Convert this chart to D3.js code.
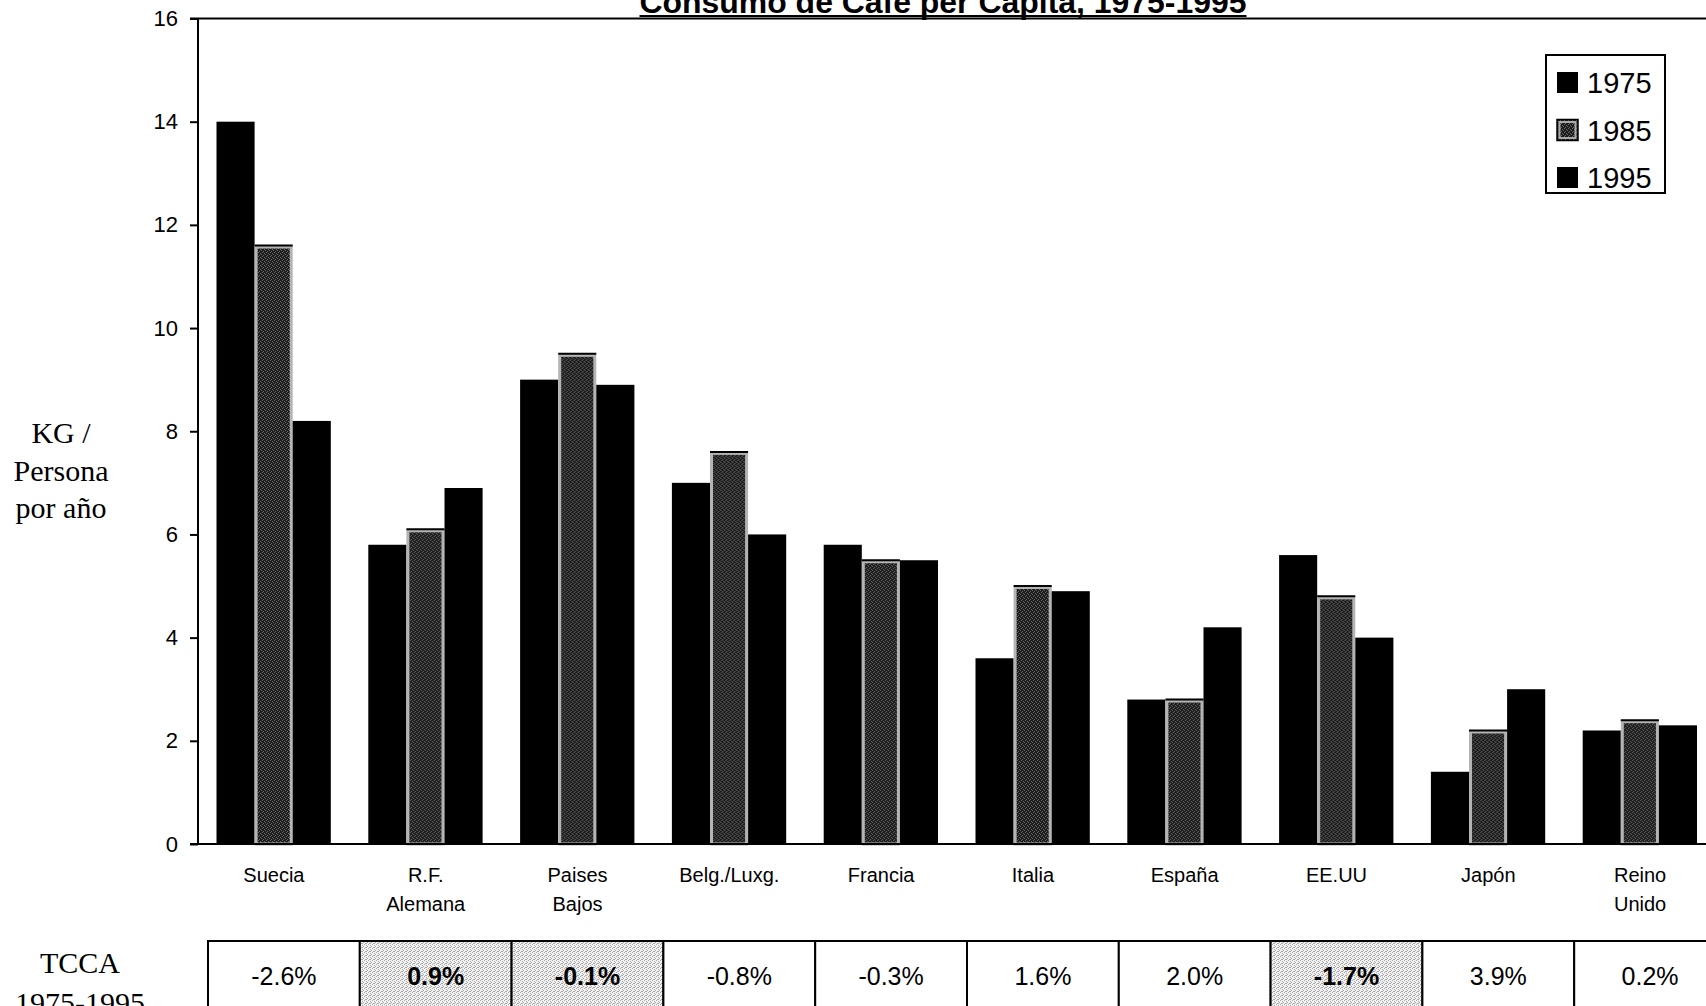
<!DOCTYPE html>
<html>
<head>
<meta charset="utf-8">
<script src="https://cdn.jsdelivr.net/npm/d3@7"></script>
<style>
  html, body { margin: 0; padding: 0; background: #fff; overflow: hidden; }
  svg { display: block; }
</style>
</head>
<body>
<svg id="chart" width="1706" height="1006"></svg>
<script>
// ---- data ----
const categories = ["Suecia", "R.F. Alemana", "Paises Bajos", "Belg./Luxg.", "Francia", "Italia", "España", "EE.UU", "Japón", "Reino Unido"];
const years = ["1975", "1985", "1995"];
const values1975 = [14.0, 5.8, 9.0, 7.0, 5.8, 3.6, 2.8, 5.6, 1.4, 2.2];
const values1985 = [11.6, 6.1, 9.5, 7.6, 5.5, 5.0, 2.8, 4.8, 2.2, 2.4];
const values1995 = [8.2, 6.9, 8.9, 6.0, 5.5, 4.9, 4.2, 4.0, 3.0, 2.3];
const tccaLabels = ["-2.6%", "0.9%", "-0.1%", "-0.8%", "-0.3%", "1.6%", "2.0%", "-1.7%", "3.9%", "0.2%"];
const tccaShaded = [false, true, true, false, false, false, false, true, false, false];
const yTicks = [0, 2, 4, 6, 8, 10, 12, 14, 16];
const titleText = "Consumo de Café per Capita, 1975-1995";
const yTitleLines = ["KG /", "Persona", "por año"];
const tccaTitleLines = ["TCCA", "1975-1995"];

const seriesValues = { "1975": values1975, "1985": values1985, "1995": values1995 };

// ---- layout ----
const svg = d3.select("#chart");
const axisX = 198, y0px = 844, y16px = 18.5, bandW = 151.8;
const sans = "'Liberation Sans', Arial, sans-serif";
const serif = "'Liberation Serif', 'Times New Roman', serif";

const y = d3.scaleLinear().domain([0, 16]).range([y0px, y16px]);
const x0 = d3.scaleBand().domain(categories).range([axisX, axisX + bandW * categories.length]).padding(0);
const x1 = d3.scaleBand().domain(years).range([18.5, 18.5 + 114.3]).padding(0);

// patterns
const defs = svg.append("defs");
const dark = defs.append("pattern").attr("id", "darkStip").attr("patternUnits", "userSpaceOnUse")
  .attr("width", 4).attr("height", 4);
dark.append("rect").attr("width", 4).attr("height", 4).attr("fill", "#1c1c1c");
[[0,0],[2,1],[1,3],[3,2]].forEach(([a,b]) => dark.append("rect").attr("x", a).attr("y", b).attr("width", 1).attr("height", 1).attr("fill", "#6a6a6a"));
const light = defs.append("pattern").attr("id", "lightStip").attr("patternUnits", "userSpaceOnUse")
  .attr("width", 4).attr("height", 4);
light.append("rect").attr("width", 4).attr("height", 4).attr("fill", "#f2f2f2");
[[0,0],[2,1],[1,3],[3,2],[2,3]].forEach(([a,b]) => light.append("rect").attr("x", a).attr("y", b).attr("width", 1).attr("height", 1).attr("fill", "#a8a8a8"));

// title
const title = svg.append("text")
  .attr("x", 943).attr("y", 13)
  .attr("text-anchor", "middle")
  .attr("font-family", sans).attr("font-weight", "bold").attr("font-size", 31)
  .attr("textLength", 607).attr("lengthAdjust", "spacingAndGlyphs")
  .text(titleText);
svg.append("line").attr("x1", 943 - 303.5).attr("x2", 943 + 303.5).attr("y1", 16).attr("y2", 16)
  .attr("stroke", "#000").attr("stroke-width", 2);

// bars
const groups = svg.append("g").selectAll("g").data(categories).join("g")
  .attr("transform", d => `translate(${x0(d)},0)`);
groups.selectAll("rect").data((d, i) => years.map(yr => ({ yr, v: seriesValues[yr][i] }))).join("rect")
  .attr("x", d => x1(d.yr) + (d.yr === "1985" ? 1.5 : 0))
  .attr("y", d => y(d.v) + (d.yr === "1985" ? 1.5 : 0))
  .attr("width", d => x1.bandwidth() - (d.yr === "1985" ? 3 : 0))
  .attr("height", d => y0px - y(d.v) - (d.yr === "1985" ? 1.5 : 0))
  .attr("fill", d => d.yr === "1985" ? "url(#darkStip)" : "#000")
  .attr("stroke", d => d.yr === "1985" ? "#b4b4b4" : "none")
  .attr("stroke-width", d => d.yr === "1985" ? 3 : 0);
// black tops on 1985 bars
groups.selectAll("line.top").data((d, i) => [{ v: values1985[i] }]).join("line")
  .attr("class", "top")
  .attr("x1", x1("1985")).attr("x2", x1("1985") + x1.bandwidth())
  .attr("y1", d => y(d.v)).attr("y2", d => y(d.v))
  .attr("stroke", "#000").attr("stroke-width", 2);

// frame lines
svg.append("line").attr("x1", 190).attr("x2", 1706).attr("y1", y16px).attr("y2", y16px).attr("stroke", "#000").attr("stroke-width", 2);
svg.append("line").attr("x1", 190).attr("x2", 1706).attr("y1", y0px).attr("y2", y0px).attr("stroke", "#000").attr("stroke-width", 2);

// y axis
const yAxis = d3.axisLeft(y).tickValues(yTicks).tickSize(8).tickPadding(12).tickFormat(d3.format("d"));
const gy = svg.append("g").attr("transform", `translate(${axisX},0)`).call(yAxis);
gy.select(".domain").attr("stroke-width", 2).attr("d", `M-0,${y0px}V${y16px}`);
gy.selectAll(".tick line").attr("stroke-width", 2);
gy.selectAll(".tick text").attr("font-family", sans).attr("font-size", 22).attr("fill", "#000");

// x axis labels
const xAxis = d3.axisBottom(x0).tickSize(0).tickPadding(0);
const gx = svg.append("g").attr("transform", `translate(0,${y0px})`).call(xAxis);
gx.select(".domain").remove();
gx.selectAll(".tick text").each(function(d) {
  const t = d3.select(this);
  t.text(null).attr("y", 0).attr("dy", null)
    .attr("font-family", sans).attr("font-size", 20).attr("fill", "#000");
  d.split(" ").forEach((w, i) => {
    t.append("tspan").attr("x", 0).attr("y", 38 + i * 29).text(w);
  });
});

// y title
svg.append("g").selectAll("text").data(yTitleLines).join("text")
  .attr("x", 61).attr("y", (d, i) => 443 + i * 37.5)
  .attr("text-anchor", "middle")
  .attr("font-family", serif).attr("font-size", 30).attr("fill", "#000")
  .text(d => d);

// legend
const lg = svg.append("g");
lg.append("rect").attr("x", 1546).attr("y", 55).attr("width", 119).attr("height", 138)
  .attr("fill", "#fff").attr("stroke", "#000").attr("stroke-width", 2);
const legY = d3.scalePoint().domain(years).range([82.5, 177.5]);
lg.selectAll("rect.sw").data(years).join("rect").attr("class", "sw")
  .attr("x", 1557).attr("y", d => legY(d) - 10.5).attr("width", 21).attr("height", 21)
  .attr("fill", d => d === "1985" ? "url(#darkStip)" : "#000")
  .attr("stroke", d => d === "1985" ? "#000" : "none").attr("stroke-width", 1.5);
lg.selectAll("rect.swi").data(years.filter(d => d === "1985")).join("rect").attr("class", "swi")
  .attr("x", 1559.5).attr("y", d => legY(d) - 8).attr("width", 16).attr("height", 16)
  .attr("fill", "url(#darkStip)").attr("stroke", "#aaa").attr("stroke-width", 2);
lg.selectAll("text").data(years).join("text")
  .attr("x", 1587).attr("y", d => legY(d) + 10.5)
  .attr("font-family", sans).attr("font-size", 29).attr("fill", "#000")
  .text(d => d);

// TCCA table
const tableX = d3.scaleBand().domain(categories).range([axisX + 10, axisX + 10 + bandW * categories.length]).padding(0);
const tg = svg.append("g");
tg.selectAll("rect").data(categories).join("rect")
  .attr("x", d => tableX(d)).attr("y", 941).attr("width", tableX.bandwidth()).attr("height", 80)
  .attr("fill", (d, i) => tccaShaded[i] ? "url(#lightStip)" : "#fff")
  .attr("stroke", "#000").attr("stroke-width", 2);
tg.selectAll("text").data(categories).join("text")
  .attr("x", d => tableX(d) + tableX.bandwidth() / 2).attr("y", 985)
  .attr("text-anchor", "middle")
  .attr("font-family", sans).attr("font-size", 25).attr("fill", "#000")
  .attr("font-weight", (d, i) => tccaShaded[i] ? "bold" : "normal")
  .text((d, i) => tccaLabels[i]);

svg.append("g").selectAll("text").data(tccaTitleLines).join("text")
  .attr("x", 80).attr("y", (d, i) => 973 + i * 40)
  .attr("text-anchor", "middle")
  .attr("font-family", serif).attr("font-size", 30).attr("fill", "#000")
  .text(d => d);
</script>
</body>
</html>
